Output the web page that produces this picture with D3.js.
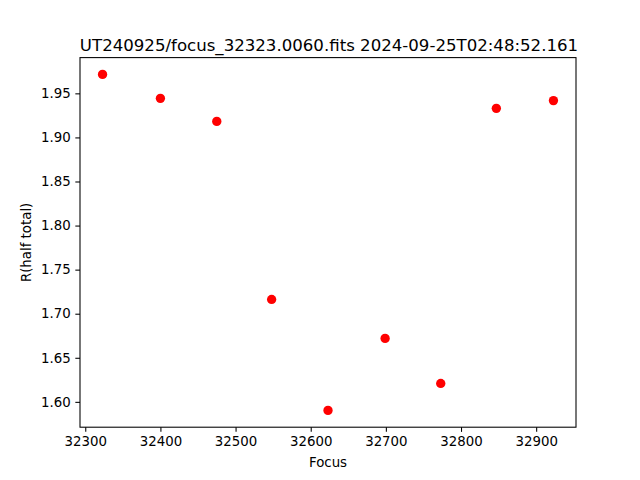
<!DOCTYPE html>
<html><head><meta charset="utf-8">
<script src="https://cdn.jsdelivr.net/npm/d3@7"></script>
<style>body{margin:0;background:#fff}svg{display:block}text{font-family:"DejaVu Sans",sans-serif}</style>
</head><body>
<script>
const titleText = "UT240925/focus_32323.0060.fits 2024-09-25T02:48:52.161";
const xLabel = "Focus";
const yLabel = "R(half total)";
const focusValues = [32323, 32400, 32475, 32548, 32623, 32699, 32773, 32847, 32923];
const radiusValues = [1.9715, 1.9443, 1.9182, 1.7162, 1.5903, 1.6720, 1.6209, 1.9330, 1.9418];
const xTicks = [32300, 32400, 32500, 32600, 32700, 32800, 32900];
const yTicks = [1.60, 1.65, 1.70, 1.75, 1.80, 1.85, 1.90, 1.95];

const W = 640, H = 480;
const m = {left: 80, right: 576, top: 57.6, bottom: 427.2};
const svg = d3.select("body").append("svg").attr("width", W).attr("height", H);

function pad(ext){ const d = (ext[1]-ext[0])*0.05; return [ext[0]-d, ext[1]+d]; }
const x = d3.scaleLinear().domain(pad(d3.extent(focusValues))).range([m.left, m.right]);
const y = d3.scaleLinear().domain(pad(d3.extent(radiusValues))).range([m.bottom, m.top]);

const xAxis = d3.axisBottom(x).tickValues(xTicks).tickFormat(d3.format("d")).tickSize(4.67).tickPadding(4.67);
const yAxis = d3.axisLeft(y).tickValues(yTicks).tickFormat(d3.format(".2f")).tickSize(4.67).tickPadding(4.67);

const gx = svg.append("g").attr("transform", `translate(0,${m.bottom})`).call(xAxis);
const gy = svg.append("g").attr("transform", `translate(${m.left},0)`).call(yAxis);
[gx, gy].forEach(g => {
  g.select(".domain").remove();
  g.selectAll(".tick line").attr("stroke", "#000").attr("stroke-width", 1.07);
  g.selectAll(".tick text").attr("fill", "#000").style("font-size", "13.33px").style("font-family", "'DejaVu Sans', sans-serif");
});

svg.append("g").selectAll("circle").data(focusValues).join("circle")
  .attr("cx", (d,i) => x(d)).attr("cy", (d,i) => y(radiusValues[i]))
  .attr("r", 4.67).attr("fill", "#ff0000");

svg.append("rect").attr("x", m.left).attr("y", m.top)
  .attr("width", m.right - m.left).attr("height", m.bottom - m.top)
  .attr("fill", "none").attr("stroke", "#000").attr("stroke-width", 1.07);

svg.append("text").attr("x", (m.left+m.right)/2 + 1).attr("y", 51).attr("text-anchor", "middle")
  .style("font-size", "16.6px").attr("fill", "#000").text(titleText);
svg.append("text").attr("x", (m.left+m.right)/2).attr("y", 467).attr("text-anchor", "middle")
  .style("font-size", "13.33px").attr("fill", "#000").text(xLabel);
svg.append("text").attr("transform", `translate(31,${(m.top+m.bottom)/2}) rotate(-90)`).attr("text-anchor", "middle")
  .style("font-size", "13.33px").attr("fill", "#000").text(yLabel);
</script>
</body></html>
